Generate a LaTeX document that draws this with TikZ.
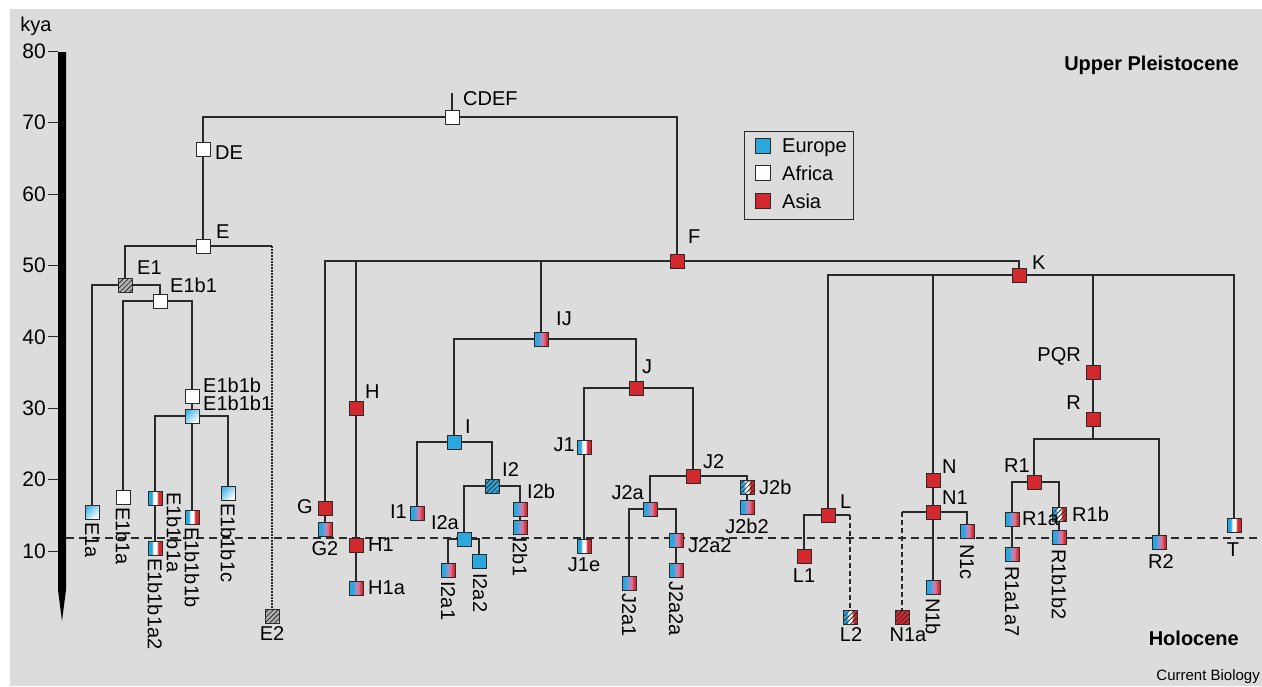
\documentclass[tikz,border=0pt]{standalone}
\usepackage{fontspec}
\setmainfont{Liberation Sans}
\usetikzlibrary{patterns.meta}
\definecolor{bg}{HTML}{DCDCDC}
\definecolor{eub}{HTML}{2AA8DE}
\definecolor{asr}{HTML}{D2282E}
\definecolor{ln}{HTML}{2A2A2A}
\definecolor{lav}{RGB}{158,142,205}
\definecolor{pnk}{RGB}{226,112,134}
\definecolor{rd2}{RGB}{214,52,62}
\pgfdeclarehorizontalshading{brsh}{100bp}{color(0bp)=(eub); color(25bp)=(eub); color(37bp)=(eub); color(50bp)=(lav); color(59bp)=(pnk); color(68bp)=(rd2); color(75bp)=(asr); color(100bp)=(asr)}
\pgfdeclarehorizontalshading{trish}{100bp}{color(0bp)=(eub); color(25bp)=(eub); color(38bp)=(eub); color(45bp)=(white); color(55bp)=(white); color(62bp)=(asr); color(75bp)=(asr); color(100bp)=(asr)}
\tikzset{
  hg/.style={rectangle, draw=ln, line width=0.9pt, minimum size=14pt, inner sep=0pt},
  afr/.style={hg, fill=white},
  eur/.style={hg, fill=eub},
  asi/.style={hg, fill=asr},
  br/.style={hg, shade, shading=brsh},
  tri/.style={hg, shade, shading=trish},
  ltb/.style={hg, top color=eub!85, bottom color=white, shading angle=45},
  hatch/.style={postaction={pattern={Lines[angle=45,distance=3.4pt,line width=0.8pt]}, pattern color=ln}},
  hgray/.style={hg, fill=black!30, hatch},
  heur/.style={hg, fill=eub, hatch},
  hasi/.style={hg, fill=asr, hatch},
  htri/.style={tri, hatch},
  txt/.style={font=\fontsize{20}{22}\selectfont, inner sep=1pt, text depth=0pt},
  vtxt/.style={txt, rotate=-90, anchor=west},
  axnum/.style={font=\fontsize{21}{23}\selectfont, inner sep=1pt, text depth=0pt, anchor=east},
  era/.style={font=\fontsize{20}{22}\selectfont\bfseries, inner sep=1pt, text depth=0pt, anchor=east},
  conn/.style={draw=ln, line width=1.1pt},
  dconn/.style={conn, dash pattern=on 5pt off 3pt},
  oconn/.style={conn, line width=1.3pt, dash pattern=on 1.5pt off 1.5pt},
}
\begin{document}
\begin{tikzpicture}[x=1pt,y=-1pt]
\useasboundingbox (0,0) rectangle (1262,686);
\fill[bg] (10,9) rectangle (1262,686);

% time axis
\fill[black] (58,52) -- (66,52) -- (66,590) -- (62,621) -- (58,590) -- cycle;
\foreach \t in {10,20,...,80}{
  \draw[ln, line width=1pt] (48,{622.4-7.14*\t}) -- (58,{622.4-7.14*\t});
  \node[axnum] (ax\t) at (47,{622.4-7.14*\t}) {\t};
}
\node[txt] (kya) at (36,24) {kya};

% holocene boundary
\draw[ln, line width=1.6pt, dash pattern=on 8pt off 5pt] (66,538) -- (1262,538);

% legend
\draw[ln, line width=1pt] (744,131) rectangle (853,219);
\node[eur, minimum size=15pt] (legE) at (763,146) {};
\node[afr, minimum size=15pt] (legA) at (763,173) {};
\node[asi, minimum size=15pt] (legS) at (763,201) {};
\node[txt, anchor=west] (legEt) at (781,146) {Europe};
\node[txt, anchor=west] (legAt) at (781,173) {Africa};
\node[txt, anchor=west] (legSt) at (781,201) {Asia};

% haplogroup nodes
\node[afr] (CDEF) at (452,117) {};
\node[afr] (DE) at (203,149) {};
\node[afr] (E) at (203,246) {};
\node[hgray] (E1) at (125,285) {};
\node[afr] (E1b1) at (160,301) {};
\node[ltb] (E1a) at (92,512) {};
\node[afr] (E1b1a) at (123,497) {};
\node[afr] (E1b1b) at (192,396) {};
\node[ltb] (E1b1b1) at (192,416) {};
\node[tri] (E1b1b1a) at (155,498) {};
\node[tri] (E1b1b1a2) at (155,548) {};
\node[tri] (E1b1b1b) at (192,517) {};
\node[ltb] (E1b1b1c) at (228,493) {};
\node[hgray] (E2) at (272,616) {};

\node[asi] (F) at (677,261) {};
\node[asi] (G) at (325,508) {};
\node[br] (G2) at (325,529) {};
\node[asi] (H) at (356,408) {};
\node[asi] (H1) at (356,545) {};
\node[br] (H1a) at (356,588) {};
\node[br] (IJ) at (541,339) {};
\node[eur] (I) at (454,442) {};
\node[br] (I1) at (417,513) {};
\node[heur] (I2) at (492,486) {};
\node[eur] (I2a) at (464,539) {};
\node[br] (I2a1) at (448,570) {};
\node[eur] (I2a2) at (479,561) {};
\node[br] (I2b) at (520,509) {};
\node[br] (I2b1) at (520,527) {};
\node[asi] (J) at (636,388) {};
\node[tri] (J1) at (584,447) {};
\node[tri] (J1e) at (584,546) {};
\node[asi] (J2) at (693,476) {};
\node[br] (J2a) at (650,509) {};
\node[br] (J2a1) at (629,583) {};
\node[br] (J2a2) at (676,540) {};
\node[br] (J2a2a) at (676,570) {};
\node[htri] (J2b) at (747,487) {};
\node[br] (J2b2) at (747,507) {};

\node[asi] (K) at (1019,275) {};
\node[asi] (L) at (828,515) {};
\node[asi] (L1) at (804,556) {};
\node[htri] (L2) at (850,617) {};
\node[asi] (N) at (933,480) {};
\node[asi] (N1) at (933,512) {};
\node[hasi] (N1a) at (902,617) {};
\node[br] (N1b) at (933,587) {};
\node[br] (N1c) at (967,531) {};
\node[asi] (PQR) at (1093,372) {};
\node[asi] (R) at (1093,419) {};
\coordinate (Rj) at (1093,439);
\node[asi] (R1) at (1034,482) {};
\node[br] (R1a) at (1012,519) {};
\node[br] (R1a1a7) at (1012,554) {};
\node[htri] (R1b) at (1059,514) {};
\node[br] (R1b1b2) at (1059,537) {};
\node[br] (R2) at (1159,542) {};
\node[tri] (T) at (1234,525) {};

% connectors
\draw[conn] (CDEF.north) -- ++(0,-17);
\draw[conn] (CDEF) -| (DE);
\draw[conn] (DE) -- (E);
\draw[conn] (E) -| (E1);
\draw[conn] (E) -- (E2 |- E);
\draw[oconn] (E2 |- E) -- (E2);
\draw[conn] (E1) -| (E1a);
\draw[conn] (E1) -| (E1b1);
\draw[conn] (E1b1) -| (E1b1a);
\draw[conn] (E1b1) -| (E1b1b);
\draw[conn] (E1b1b) -- (E1b1b1);
\draw[conn] (E1b1b1) -| (E1b1b1a);
\draw[conn] (E1b1b1a) -- (E1b1b1a2);
\draw[conn] (E1b1b1) -- (E1b1b1b);
\draw[conn] (E1b1b1) -| (E1b1b1c);

\draw[conn] (CDEF) -| (F);
\draw[conn] (F) -| (G);
\draw[conn] (G) -- (G2);
\draw[conn] (H |- F) -- (H);
\draw[conn] (H) -- (H1);
\draw[conn] (H1) -- (H1a);
\draw[conn] (IJ |- F) -- (IJ);
\draw[conn] (F) -| (K);
\draw[conn] (IJ) -| (I);
\draw[conn] (IJ) -| (J);
\draw[conn] (I) -| (I1);
\draw[conn] (I) -| (I2);
\draw[conn] (I2) -| (I2a);
\draw[conn] (I2) -| (I2b);
\draw[conn] (I2b) -- (I2b1);
\draw[conn] (I2a) -| (I2a1);
\draw[conn] (I2a) -| (I2a2);
\draw[conn] (J) -| (J1);
\draw[conn] (J1) -- (J1e);
\draw[conn] (J) -| (J2);
\draw[conn] (J2) -| (J2a);
\draw[conn] (J2) -| (J2b);
\draw[conn] (J2b) -- (J2b2);
\draw[conn] (J2a) -| (J2a1);
\draw[conn] (J2a) -| (J2a2);
\draw[conn] (J2a2) -- (J2a2a);

\draw[conn] (K) -| (L);
\draw[conn] (N |- K) -- (N);
\draw[conn] (PQR |- K) -- (PQR);
\draw[conn] (K) -| (T);
\draw[conn] (L) -| (L1);
\draw[conn] (L) -- (L2 |- L);
\draw[dconn] (L2 |- L) -- (L2);
\draw[conn] (N) -- (N1);
\draw[conn] (N1) -- (N1b);
\draw[conn] (N1) -| (N1c);
\draw[conn] (N1) -- (N1a |- N1);
\draw[dconn] (N1a |- N1) -- (N1a);
\draw[conn] (PQR) -- (R);
\draw[conn] (R) -- (Rj);
\draw[conn] (Rj) -| (R1);
\draw[conn] (Rj) -| (R2);
\draw[conn] (R1) -| (R1a);
\draw[conn] (R1a) -- (R1a1a7);
\draw[conn] (R1) -| (R1b);
\draw[conn] (R1b) -- (R1b1b2);

% labels
\node[txt, anchor=west] (tCDEF) at (462,99) {CDEF};
\node[txt, anchor=west] (tDE) at (214,153) {DE};
\node[txt, anchor=west] (tE) at (215,232) {E};
\node[txt, anchor=west] (tE1) at (136,268) {E1};
\node[txt, anchor=west] (tE1b1) at (169,285) {E1b1};
\node[txt, anchor=west] (tE1b1b) at (202,385) {E1b1b};
\node[txt, anchor=west] (tE1b1b1) at (202,403) {E1b1b1};
\node[vtxt] (tE1a) at (92,521) {E1a};
\node[vtxt] (tE1b1a) at (123,506) {E1b1a};
\node[vtxt] (tE1b1b1a) at (174,491) {E1b1b1a};
\node[vtxt] (tE1b1b1a2) at (155,557) {E1b1b1a2};
\node[vtxt] (tE1b1b1b) at (192,526) {E1b1b1b};
\node[vtxt] (tE1b1b1c) at (228,502) {E1b1b1c};
\node[txt] (tE2) at (272,634) {E2};

\node[txt, anchor=west] (tF) at (687,237) {F};
\node[txt, anchor=east] (tG) at (314,507) {G};
\node[txt] (tG2) at (325,549) {G2};
\node[txt, anchor=west] (tH) at (364,392) {H};
\node[txt, anchor=west] (tH1) at (367,545) {H1};
\node[txt, anchor=west] (tH1a) at (367,588) {H1a};
\node[txt, anchor=west] (tIJ) at (555,319) {IJ};
\node[txt, anchor=west] (tI) at (464,427) {I};
\node[txt, anchor=east] (tI1) at (408,512) {I1};
\node[txt, anchor=west] (tI2) at (501,470) {I2};
\node[txt, anchor=west] (tI2b) at (526,491) {I2b};
\node[txt, anchor=east] (tI2a) at (460,523) {I2a};
\node[vtxt] (tI2a1) at (448,580) {I2a1};
\node[vtxt] (tI2a2) at (480,572) {I2a2};
\node[vtxt] (tI2b1) at (520,536) {I2b1};
\node[txt, anchor=east] (tJ1) at (576,445) {J1};
\node[txt] (tJ1e) at (584,565) {J1e};
\node[txt, anchor=west] (tJ) at (641,367) {J};
\node[txt, anchor=west] (tJ2) at (702,462) {J2};
\node[txt, anchor=east] (tJ2a) at (645,493) {J2a};
\node[txt, anchor=west] (tJ2b) at (758,487) {J2b};
\node[txt] (tJ2b2) at (747,526) {J2b2};
\node[txt, anchor=west] (tJ2a2) at (687,546) {J2a2};
\node[vtxt] (tJ2a1) at (629,592) {J2a1};
\node[vtxt] (tJ2a2a) at (676,580) {J2a2a};

\node[txt, anchor=west] (tK) at (1031,263) {K};
\node[txt, anchor=west] (tL) at (839,502) {L};
\node[txt] (tL1) at (804,576) {L1};
\node[txt] (tL2) at (851,635) {L2};
\node[txt, anchor=west] (tN) at (941,467) {N};
\node[txt, anchor=west] (tN1) at (941,498) {N1};
\node[txt] (tN1a) at (908,635) {N1a};
\node[vtxt] (tN1b) at (933,597) {N1b};
\node[vtxt] (tN1c) at (967,543) {N1c};
\node[txt, anchor=east] (tPQR) at (1082,355) {PQR};
\node[txt, anchor=east] (tR) at (1082,403) {R};
\node[txt, anchor=east] (tR1) at (1031,466) {R1};
\node[txt, anchor=west] (tR1a) at (1021,519) {R1a};
\node[txt, anchor=west] (tR1b) at (1071,514) {R1b};
\node[vtxt] (tR1a1a7) at (1012,565) {R1a1a7};
\node[vtxt] (tR1b1b2) at (1059,548) {R1b1b2};
\node[txt] (tR2) at (1161,562) {R2};
\node[txt] (tT) at (1233,550) {T};

\node[era] (upper) at (1240,63) {Upper Pleistocene};
\node[era] (holo) at (1240,638) {Holocene};
\node[font=\fontsize{15}{17}\selectfont, inner sep=1pt, anchor=east] (cb) at (1261,677) {Current Biology};
\end{tikzpicture}
\end{document}
